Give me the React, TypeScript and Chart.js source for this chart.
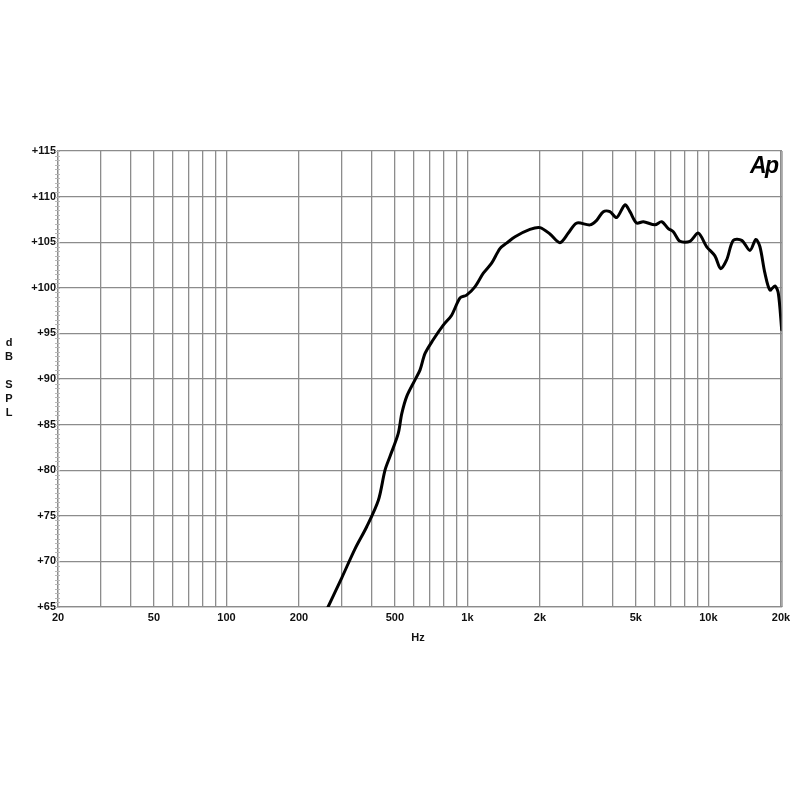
import React, { useEffect, useRef } from "react";
import { Chart, registerables } from "chart.js";

Chart.register(...registerables);

const freqHz = [264, 301, 342, 382, 427, 455, 477, 516, 534, 560, 606, 636, 667, 721, 794, 860, 932, 992, 1074, 1164, 1260, 1364, 1454, 1576, 1817, 2000, 2200, 2420, 2622, 2840, 3226, 3437, 3664, 3900, 4160, 4506, 4724, 5036, 5368, 6000, 6400, 6815, 7150, 7620, 8380, 9080, 9840, 10640, 11240, 11900, 12680, 13740, 14870, 15740, 16360, 17160, 18000, 18880, 19500, 20140];
const splDb = [65.0, 68.2, 71.4, 73.8, 76.7, 80.0, 81.5, 84.0, 86.2, 88.1, 89.9, 91.0, 92.8, 94.3, 95.9, 97.0, 98.9, 99.2, 100.1, 101.6, 102.7, 104.3, 104.9, 105.6, 106.4, 106.6, 105.9, 104.95, 106.0, 107.1, 106.9, 107.4, 108.35, 108.35, 107.7, 109.1, 108.35, 107.1, 107.25, 106.9, 107.25, 106.5, 106.15, 105.1, 105.1, 106.0, 104.5, 103.5, 102.1, 103.05, 105.2, 105.2, 104.1, 105.3, 104.5, 101.6, 99.75, 100.2, 99.4, 95.4];

const xGridTicks = [20, 30, 40, 50, 60, 70, 80, 90, 100, 200, 300, 400, 500, 600, 700, 800, 900, 1000, 2000, 3000, 4000, 5000, 6000, 7000, 8000, 9000, 10000, 20000];
const xLabelTicks = [20, 50, 100, 200, 500, 1000, 2000, 5000, 10000, 20000];
const xLabelText = ["20", "50", "100", "200", "500", "1k", "2k", "5k", "10k", "20k"];
const yMin = 65;
const yMax = 115;
const yStep = 5;
const yMinorStep = 0.5;

const X_MIN = 20;
const X_MAX = 20200;

const framePlugin = {
  id: "frame",
  afterDraw(chart: any) {
    const { ctx, chartArea } = chart;
    const y = chart.scales.y;
    ctx.save();
    ctx.strokeStyle = "#b8b8b8";
    ctx.lineWidth = 1;
    for (let v = yMin; v <= yMax + 1e-6; v += yMinorStep) {
      const py = Math.round(y.getPixelForValue(v)) + 0.5;
      ctx.beginPath();
      ctx.moveTo(chartArea.left - 3, py);
      ctx.lineTo(chartArea.left + 2, py);
      ctx.stroke();
    }
    ctx.strokeStyle = "#8c8c8c";
    ctx.lineWidth = 1.3;
    ctx.beginPath();
    ctx.moveTo(chartArea.right, chartArea.top);
    ctx.lineTo(chartArea.right, chartArea.bottom);
    ctx.stroke();
    ctx.restore();
  },
};

export default function App() {
  const ref = useRef<HTMLCanvasElement | null>(null);
  useEffect(() => {
    if (!ref.current) return;
    const font = { family: "'Liberation Sans', Arial, sans-serif", size: 11, weight: "bold" as const };
    const chart = new Chart(ref.current, {
      type: "line",
      data: {
        datasets: [
          {
            data: freqHz.map((f, i) => ({ x: f, y: splDb[i] })),
            borderColor: "#000",
            borderWidth: 3,
            pointRadius: 0,
            tension: 0.3,
            borderJoinStyle: "round",
            borderCapStyle: "round",
            fill: false,
          },
        ],
      },
      options: {
        animation: false,
        responsive: false,
        maintainAspectRatio: false,
        layout: { padding: { left: 0, top: 151, right: 18, bottom: 0 } },
        plugins: { legend: { display: false }, tooltip: { enabled: false } },
        scales: {
          x: {
            type: "logarithmic",
            min: X_MIN,
            max: X_MAX,
            afterBuildTicks: (scale: any) => {
              scale.ticks = xGridTicks.map((v) => ({ value: v }));
            },
            afterFit: (scale: any) => {
              scale.height = 800 - 607;
            },
            grid: { color: "#8c8c8c", lineWidth: 1.3, drawTicks: false },
            border: { color: "#8c8c8c", width: 1.3 },
            ticks: {
              autoSkip: false,
              maxRotation: 0,
              padding: 4,
              color: "#111",
              font,
              callback: (v: any) => {
                const i = xLabelTicks.indexOf(Number(v));
                return i >= 0 ? xLabelText[i] : "";
              },
            },
          },
          y: {
            type: "linear",
            min: yMin,
            max: yMax,
            afterFit: (scale: any) => {
              scale.width = 58;
            },
            grid: { color: "#8c8c8c", lineWidth: 1.3, drawTicks: false },
            border: { color: "#8c8c8c", width: 1.3 },
            ticks: {
              stepSize: yStep,
              padding: 2,
              color: "#111",
              font,
              callback: (v: any) => "+" + v,
            },
          },
        },
      },
      plugins: [framePlugin],
    });
    return () => chart.destroy();
  }, []);

  const labelStyle: React.CSSProperties = {
    position: "absolute",
    fontFamily: "'Liberation Sans', Arial, sans-serif",
    fontWeight: "bold",
    fontSize: 11,
    color: "#111",
    lineHeight: "14px",
  };

  return (
    <div style={{ position: "absolute", left: 0, top: 0, width: 800, height: 800, background: "#fff" }}>
      <canvas ref={ref} width={800} height={800} style={{ display: "block", width: 800, height: 800 }} />
      <div style={{ ...labelStyle, left: 4, top: 335, width: 10, textAlign: "center" }}>
        <div>d</div>
        <div>B</div>
        <div style={{ height: 14 }}></div>
        <div>S</div>
        <div>P</div>
        <div>L</div>
      </div>
      <div style={{ ...labelStyle, left: 408, top: 630, width: 20, textAlign: "center" }}>Hz</div>
      <div
        style={{
          position: "absolute",
          left: 750,
          top: 152,
          fontFamily: "'Liberation Sans', Arial, sans-serif",
          fontWeight: "bold",
          fontStyle: "italic",
          fontSize: 23,
          letterSpacing: -1.5,
          color: "#000",
        }}
      >
        Ap
      </div>
    </div>
  );
}
